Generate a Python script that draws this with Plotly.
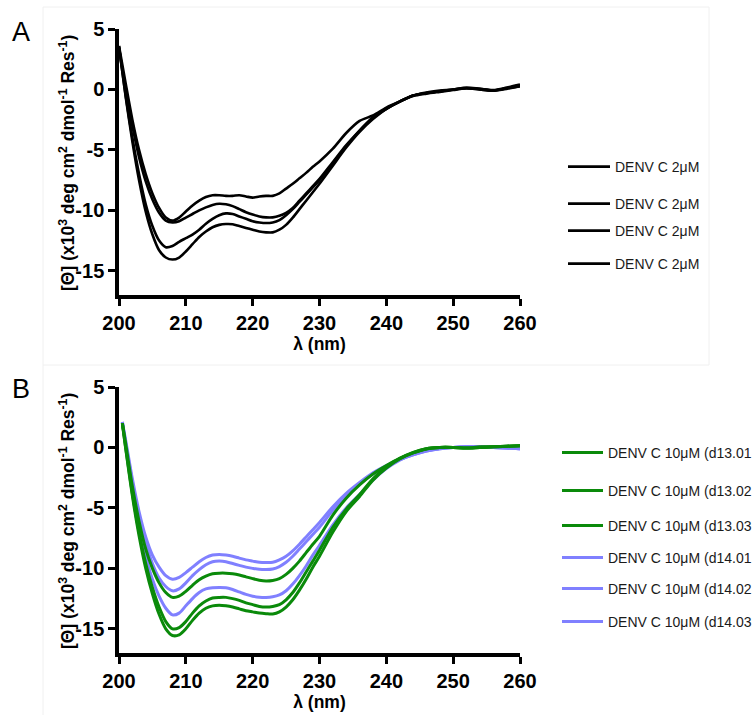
import plotly.graph_objects as go

# ---------------- data ----------------
# Panel A wavelengths (nm)
wl_a = [200, 201, 202, 203, 204, 205, 206, 207, 208, 209, 210, 211, 212, 213, 214, 215,
        216, 217, 218, 219, 220, 221, 222, 223, 224, 225, 226, 227, 228, 229, 230,
        232, 234, 236, 238, 240, 242, 244, 246, 248, 250, 252, 254, 256, 258, 260]

a_curve1 = [3.6, 0.5, -2.5, -5.0, -7.0, -8.6, -9.8, -10.6, -10.85, -10.6, -10.1, -9.6, -9.2, -8.9, -8.75, -8.75,
            -8.8, -8.8, -8.75, -8.85, -8.95, -8.85, -8.8, -8.8, -8.6, -8.2, -7.8, -7.35, -6.9, -6.4, -5.95,
            -4.9, -3.6, -2.6, -2.15, -1.5, -1.0, -0.55, -0.35, -0.2, -0.05, 0.1, 0.05, -0.1, 0.05, 0.3]
a_curve2 = [3.4, 0.0, -3.0, -5.6, -7.6, -9.1, -10.2, -10.85, -11.0, -10.9, -10.6, -10.3, -10.0, -9.75, -9.55, -9.45,
            -9.5, -9.65, -9.9, -10.15, -10.35, -10.5, -10.58, -10.58, -10.45, -10.2, -9.8, -9.2, -8.6, -8.0, -7.4,
            -6.0, -4.6, -3.4, -2.3, -1.6, -1.0, -0.5, -0.3, -0.15, 0.0, 0.1, 0.0, -0.1, 0.1, 0.35]
a_curve3 = [3.5, -0.5, -4.0, -7.0, -9.5, -11.3, -12.5, -13.05, -12.95, -12.6, -12.3, -12.0, -11.6, -11.1, -10.7, -10.4,
            -10.25, -10.3, -10.5, -10.7, -10.9, -11.0, -11.05, -11.0, -10.8, -10.4, -9.9, -9.3, -8.7, -8.1, -7.5,
            -6.1, -4.7, -3.4, -2.35, -1.6, -1.0, -0.5, -0.25, -0.1, 0.0, 0.15, 0.05, -0.05, 0.15, 0.4]
a_curve4 = [3.6, -0.6, -4.3, -7.5, -10.1, -12.0, -13.3, -13.9, -14.07, -13.9, -13.4, -12.8, -12.2, -11.75, -11.4, -11.2,
            -11.13, -11.15, -11.3, -11.45, -11.6, -11.75, -11.82, -11.82, -11.6, -11.2, -10.6, -9.9, -9.2, -8.5, -7.8,
            -6.3, -4.8, -3.5, -2.45, -1.6, -1.0, -0.5, -0.3, -0.15, 0.0, 0.1, 0.0, -0.1, 0.1, 0.25]
a_names = ["DENV C 2μM", "DENV C 2μM", "DENV C 2μM", "DENV C 2μM"]

# Panel B wavelengths (nm)
wl_b = [200.5, 201, 202, 203, 204, 205, 206, 207, 208, 209, 210, 211, 212, 213, 214, 215,
        216, 217, 218, 219, 220, 221, 222, 223, 224, 225, 226, 227, 228, 229, 230,
        232, 234, 236, 238, 240, 242, 244, 246, 248, 250, 252, 254, 256, 258, 260]

b_d13_01 = [2.0, 0.3, -3.2, -6.1, -8.4, -10.0, -11.2, -12.0, -12.4, -12.3, -11.9, -11.4, -10.95, -10.65, -10.45, -10.4,
            -10.4, -10.45, -10.55, -10.7, -10.85, -10.98, -11.04, -11.0, -10.85, -10.5, -10.0, -9.4, -8.7, -8.0, -7.35,
            -5.6, -4.2, -3.1, -2.2, -1.5, -0.9, -0.45, -0.1, 0.0, 0.0, -0.05, 0.05, 0.05, 0.1, 0.15]
b_d13_02 = [2.0, 0.0, -3.8, -7.0, -9.6, -11.6, -13.2, -14.4, -15.0, -14.9, -14.4, -13.7, -13.1, -12.7, -12.45, -12.4,
            -12.4, -12.5, -12.65, -12.85, -13.0, -13.15, -13.2, -13.15, -13.0, -12.6, -12.0, -11.2, -10.3, -9.4, -8.5,
            -6.6, -5.1, -3.9, -2.6, -1.6, -0.9, -0.4, -0.1, 0.0, 0.0, -0.05, 0.0, 0.05, 0.1, 0.15]
b_d13_03 = [2.0, -0.1, -4.0, -7.3, -10.0, -12.1, -13.8, -15.0, -15.55, -15.5, -15.0, -14.3, -13.7, -13.3, -13.1, -13.05,
            -13.1, -13.2, -13.35, -13.5, -13.6, -13.7, -13.75, -13.77, -13.6, -13.2, -12.6, -11.8, -10.9, -9.9, -9.0,
            -7.0, -5.3, -4.05, -2.7, -1.7, -0.95, -0.45, -0.12, 0.0, 0.0, -0.05, 0.0, 0.05, 0.1, 0.15]
b_d14_01 = [2.1, 0.6, -2.6, -5.3, -7.4, -8.9, -9.9, -10.6, -10.9, -10.75, -10.35, -9.9, -9.45, -9.1, -8.9, -8.85,
            -8.9, -9.0, -9.15, -9.3, -9.4, -9.5, -9.52, -9.5, -9.3, -9.0, -8.55, -8.0, -7.4, -6.8, -6.2,
            -4.9, -3.8, -2.9, -2.1, -1.5, -1.0, -0.6, -0.3, -0.1, 0.0, 0.05, 0.05, 0.0, -0.05, -0.1]
b_d14_02 = [2.1, 0.4, -2.9, -5.7, -7.9, -9.6, -10.8, -11.5, -11.86, -11.7, -11.2, -10.6, -10.1, -9.7, -9.45, -9.4,
            -9.45, -9.6, -9.75, -9.9, -10.0, -10.08, -10.1, -10.05, -9.85, -9.5, -9.0, -8.4, -7.8, -7.2, -6.6,
            -5.2, -4.0, -3.0, -2.2, -1.55, -1.0, -0.6, -0.3, -0.1, 0.0, 0.05, 0.05, 0.0, -0.05, -0.1]
b_d14_03 = [2.1, 0.2, -3.5, -6.6, -9.0, -10.9, -12.3, -13.3, -13.85, -13.7, -13.1, -12.5, -12.0, -11.7, -11.6, -11.58,
            -11.6, -11.75, -11.95, -12.15, -12.3, -12.38, -12.4, -12.35, -12.2, -11.85, -11.3, -10.6, -9.8, -8.9, -8.1,
            -6.4, -5.0, -3.9, -2.7, -1.75, -1.05, -0.55, -0.25, -0.08, 0.0, 0.05, 0.05, 0.0, -0.05, -0.1]
b_names = ["DENV C 10μM (d13.01", "DENV C 10μM (d13.02", "DENV C 10μM (d13.03",
           "DENV C 10μM (d14.01", "DENV C 10μM (d14.02", "DENV C 10μM (d14.03"]

x_ticks = [200, 210, 220, 230, 240, 250, 260]
y_ticks = [-15, -10, -5, 0, 5]
x_title = "λ (nm)"
y_title = "[Θ] (x10<sup>3</sup> deg cm<sup>2</sup> dmol<sup>-1</sup> Res<sup>-1</sup>)"

# ---------------- figure ----------------
W, H = 753, 715
def px(x):
    return x / W
def py(y):
    return 1 - y / H

GREEN = "#0a8a0a"
BLUE = "#8080ff"
FONT = "Liberation Sans, Arial, sans-serif"

fig = go.Figure()

a_series = [a_curve1, a_curve2, a_curve3, a_curve4]
a_leg_y = [167, 204, 231, 264]
for i, (vals, name) in enumerate(zip(a_series, a_names)):
    leg = "legend" if i == 0 else f"legend{i + 1}"
    fig.add_trace(go.Scatter(x=wl_a, y=vals, name=name, mode="lines",
                             line=dict(color="black", width=2.6, shape="spline", smoothing=0.8),
                             xaxis="x", yaxis="y", legend=leg))

b_series = [b_d13_01, b_d13_02, b_d13_03, b_d14_01, b_d14_02, b_d14_03]
b_colors = [GREEN, GREEN, GREEN, BLUE, BLUE, BLUE]
b_leg_y = [453, 491, 526, 558, 589, 622]
# draw blue first, green on top
order = [3, 4, 5, 0, 1, 2]
for i in order:
    leg = f"legend{5 + i}"
    fig.add_trace(go.Scatter(x=wl_b, y=b_series[i], name=b_names[i], mode="lines",
                             line=dict(color=b_colors[i], width=3, shape="spline", smoothing=0.8),
                             xaxis="x2", yaxis="y2", legend=leg))

legend_font = dict(family=FONT, size=14, color="#1a1a1a")
layout_legends = {}
for i, yy in enumerate(a_leg_y):
    key = "legend" if i == 0 else f"legend{i + 1}"
    layout_legends[key] = dict(x=px(563), y=py(yy), xanchor="left", yanchor="middle",
                               font=legend_font, bgcolor="rgba(0,0,0,0)", borderwidth=0,
                               itemwidth=42, tracegroupgap=0)
for i, yy in enumerate(b_leg_y):
    key = f"legend{5 + i}"
    layout_legends[key] = dict(x=px(557), y=py(yy), xanchor="left", yanchor="middle",
                               font=legend_font, bgcolor="rgba(0,0,0,0)", borderwidth=0,
                               itemwidth=41, tracegroupgap=0)

tick_font = dict(family=FONT, size=20, color="black", weight="bold")
title_font = dict(family=FONT, size=17.5, color="black", weight="bold")

def xaxis(anchor):
    return dict(domain=[px(119), px(520)], range=[200, 260], anchor=anchor,
                tickvals=x_ticks, ticktext=[str(v) for v in x_ticks],
                showline=True, linecolor="black", linewidth=3.5, mirror=False,
                ticks="outside", ticklen=7, tickwidth=3, tickcolor="black",
                showgrid=False, zeroline=False, tickfont=tick_font,
                title=dict(text=x_title, font=title_font, standoff=1))

def yaxis(anchor, top, bottom):
    return dict(domain=[py(bottom), py(top)], range=[-17, 5], anchor=anchor,
                tickvals=y_ticks, ticktext=[str(v) for v in y_ticks],
                showline=True, linecolor="black", linewidth=3.5,
                ticks="outside", ticklen=7, tickwidth=3, tickcolor="black",
                showgrid=False, zeroline=False, tickfont=tick_font)

def ytitle_ann(center_y):
    return dict(text=y_title, x=px(67), y=py(center_y), xref="paper", yref="paper",
                xanchor="center", yanchor="middle", textangle=-90, showarrow=False,
                font=title_font)

fig.update_layout(
    width=W, height=H,
    margin=dict(l=0, r=0, t=0, b=0, autoexpand=False),
    paper_bgcolor="white", plot_bgcolor="white",
    showlegend=True,
    xaxis=xaxis("y"), yaxis=yaxis("x", 29, 295),
    xaxis2=xaxis("y2"), yaxis2=yaxis("x2", 387, 653),
    annotations=[
        dict(text="A", x=px(10), y=py(15), xref="paper", yref="paper", xanchor="left", yanchor="top",
             showarrow=False, font=dict(family=FONT, size=27, color="black")),
        dict(text="B", x=px(10), y=py(372), xref="paper", yref="paper", xanchor="left", yanchor="top",
             showarrow=False, font=dict(family=FONT, size=27, color="black")),
        ytitle_ann(163),
        ytitle_ann(521),
    ],
    shapes=[
        dict(type="rect", xref="paper", yref="paper", x0=px(43), x1=px(709), y0=py(365), y1=py(7),
             line=dict(color="#f0f0f0", width=1), layer="below"),
        dict(type="line", xref="paper", yref="paper", x0=px(43), x1=px(43), y0=py(715), y1=py(365),
             line=dict(color="#f0f0f0", width=1), layer="below"),
    ],
    **layout_legends,
)

fig.write_html("out.html")
